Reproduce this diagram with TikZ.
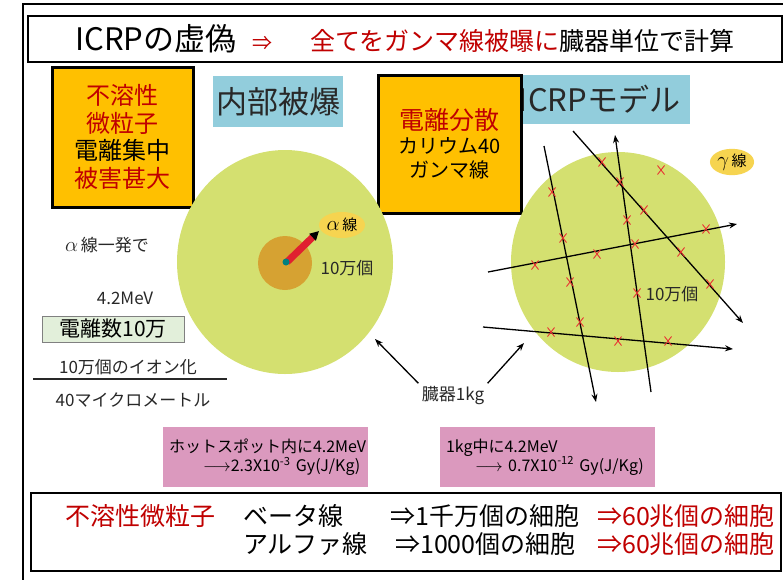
\documentclass[tikz,border=0pt]{standalone}
\usepackage{fontspec}
\setmainfont{Noto Sans CJK JP}
\usetikzlibrary{arrows.meta, positioning, shapes.geometric}
\usepackage{xcolor}

\definecolor{hired}{RGB}{192,0,0}
\definecolor{boxorange}{RGB}{255,192,0}
\definecolor{skyblue}{RGB}{146,205,220}
\definecolor{organgreen}{RGB}{212,224,112}
\definecolor{spotbrown}{RGB}{214,162,50}
\definecolor{tagyellow}{RGB}{246,212,80}
\definecolor{dosepink}{RGB}{219,153,190}
\definecolor{ionmint}{RGB}{226,239,218}
\definecolor{hitred}{RGB}{232,50,50}
\definecolor{alphared}{RGB}{224,32,48}
\definecolor{darktext}{RGB}{40,40,40}

\newcommand{\bigalpha}{{\fontsize{21}{21}\selectfont$\alpha$}}
\newcommand{\biggamma}{{\fontsize{21}{21}\selectfont$\gamma$}}

\tikzset{
  framebox/.style={draw, line width=2.5pt, fill=white},
  notebox/.style={draw, line width=3pt, fill=boxorange, align=center, inner sep=0pt},
  headbox/.style={fill=skyblue, inner sep=0pt, text=darktext, font=\fontsize{31}{31}\selectfont},
  dosebox/.style={fill=dosepink, align=left, inner xsep=6pt, font=\fontsize{16}{19}\selectfont},
  tag/.style={ellipse, fill=tagyellow, inner sep=1pt, minimum width=42pt, minimum height=26pt, font=\fontsize{15}{15}\selectfont},
  lbl/.style={text=darktext, font=\fontsize{17}{17}\selectfont},
  rowtxt/.style={inner sep=0pt, font=\fontsize{25}{25}\selectfont},
  ray/.style={line width=1.3pt, -{Stealth[length=8pt,width=6pt]}},
  hit/.style={hitred, line width=0.9pt}
}

\begin{document}
\begin{tikzpicture}[x=1pt, y=-1pt]
  \useasboundingbox (0,0) rectangle (783,579);
  \fill[white] (0,0) rectangle (783,579);
  \draw[line width=2pt] (23,590) -- (23,4) -- (790,4);

  \node[framebox, minimum width=754pt, minimum height=46pt, font=\fontsize{25}{25}\selectfont] (title) at (405,39)
    {{\fontsize{31}{31}\selectfont ICRPの虚偽}\hspace{16pt}{\color{hired}\fontsize{20}{20}\selectfont ⇒}\hspace{38pt}{\color{hired}全てをガンマ線被曝に}臓器単位で計算};

  \node[notebox, minimum width=141pt, minimum height=140pt, font=\fontsize{24}{27.5}\selectfont] (insol) at (122.5,137)
    {\textcolor{hired}{不溶性}\\\textcolor{hired}{微粒子}\\電離集中\\\textcolor{hired}{被害甚大}};
  \node[headbox, minimum width=130pt, minimum height=51pt] (inner) at (278,101.5) {内部被爆};
  \node[headbox, minimum width=180pt, minimum height=49pt] (model) at (599.5,99.5) {ICRPモデル};
  \node[notebox, minimum width=143pt, minimum height=138pt, font=\fontsize{20}{24}\selectfont] (spread) at (449.5,144)
    {\textcolor{hired}{\fontsize{25}{28}\selectfont 電離分散}\\カリウム40\\ガンマ線};

  \fill[organgreen] (285,262) ellipse [x radius=108, y radius=112];
  \fill[spotbrown] (285,263) circle [radius=27];
  \draw[alphared, line width=7pt, -{Triangle[length=9pt,width=9pt,color=black]}] (287,262) -- (319,231);
  \fill[teal] (286,262) circle [radius=3.5];
  \node[tag] (alphatag) at (342,225) {\bigalpha\,線};
  \node[lbl] (spotcount) at (347,268) {10万個};

  \node[lbl] (onehit) at (107,245) {\bigalpha\,線一発で};
  \node[lbl] (energy) at (125,298) {4.2MeV};
  \node[draw=gray, fill=ionmint, minimum width=142pt, minimum height=26pt, font=\fontsize{21}{21}\selectfont] (ions) at (113,329) {電離数10万};
  \node[lbl] (numer) at (128,367) {10万個のイオン化};
  \node[lbl] (denom) at (133,400) {40マイクロメートル};
  \draw[line width=1.2pt, darktext] (33,379) -- (227,379);

  \fill[organgreen] (618,262) ellipse [x radius=107, y radius=110];
  \foreach \xa/\ya/\xb/\yb in {544/146/596/402, 651/392/615/135, 573/131/743/323, 488/272/737/224, 483/327/733/349}
    \draw[ray] (\xa,\ya) -- (\xb,\yb);
  \foreach \u/\v in {602/162, 661/170, 552/192, 620/182, 644/210, 627/220, 563/238, 706/229, 635/244, 597/254,
                     535/265, 681/252, 570/282, 710/284, 637/293, 580/322, 551/332, 618/341, 668/341}
    \draw[hit] (\u-3.5,\v-4.5) -- (\u+3.5,\v+4.5) (\u+3.5,\v-4.5) -- (\u-3.5,\v+4.5);
  \node[lbl] (cellcount) at (672,294) {10万個};
  \node[tag] (gammatag) at (732,162) {\biggamma\,線};

  \node[lbl] (organ) at (453,396) {臓器1kg};
  \coordinate (leftorgan) at (375,339);
  \coordinate (rightorgan) at (524,343);
  \draw[ray] (organ.north west) -- (leftorgan);
  \draw[ray] (organ.north east) -- (rightorgan);

  \node[dosebox, minimum height=60pt, text width=193pt] (hotdose) at (265.5,457)
    {ホットスポット内に4.2MeV\\\hspace*{34pt}$\longrightarrow$2.3X10\textsuperscript{-3} Gy(J/Kg)};
  \node[dosebox, minimum height=60pt, text width=203pt] (organdose) at (547.5,457)
    {1kg中に4.2MeV\\\hspace*{29pt}$\longrightarrow$ 0.7X10\textsuperscript{-12} Gy(J/Kg)};

  \node[framebox, minimum width=750pt, minimum height=78pt] (summary) at (406,532) {};
  \node[rowtxt, text=hired] (insolrow) at (140,516) {不溶性微粒子};
  \node[rowtxt, anchor=west] (beta) at (243,516) {ベータ線};
  \node[rowtxt, anchor=west] (alpha) at (243,544) {アルファ線};
  \node[rowtxt, anchor=west] (betacells) at (390,516) {⇒1千万個の細胞};
  \node[rowtxt, anchor=west] (alphacells) at (395,544) {⇒1000個の細胞};
  \node[rowtxt, anchor=west, text=hired] (betaall) at (597,516) {⇒60兆個の細胞};
  \node[rowtxt, anchor=west, text=hired] (alphaall) at (597,544) {⇒60兆個の細胞};
\end{tikzpicture}
\end{document}
